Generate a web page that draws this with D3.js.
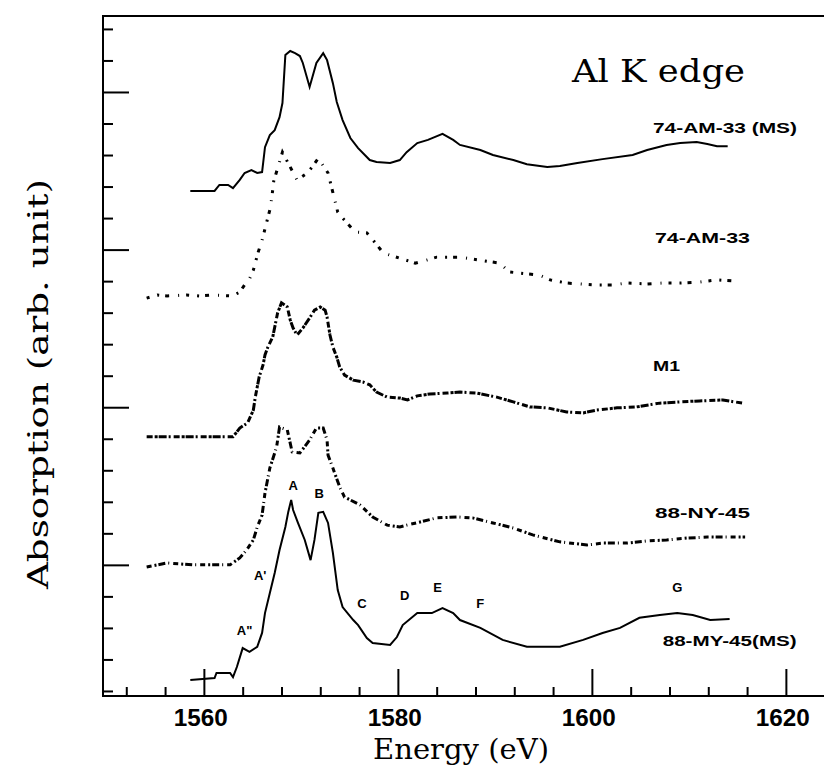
<!DOCTYPE html>
<html>
<head>
<meta charset="utf-8">
<script src="https://cdn.jsdelivr.net/npm/d3@7"></script>
<style>
  body { margin: 0; background: #fff; }
  svg { display: block; }
</style>
</head>
<body>
<div id="container"></div>
<script>
/* CONSTANTS AND GLOBALS */
const width = 824,
  height = 769,
  frame = { left: 103, top: 16, bottom: 696 };

/* DATA (energy in eV, absorption in arb. units, spectra stacked) */
// 74-AM-33 (MS), solid
const amMsE = [1558.6,1561.1,1561.6,1562.5,1563.0,1563.7,1564.2,1564.9,1565.5,1566.0,1566.3,1566.8,1567.3,1567.8,1568.1,1568.4,1568.9,1569.4,1569.9,1570.2,1570.9,1571.6,1572.3,1572.7,1573.3,1573.7,1574.3,1575.1,1575.9,1577.1,1577.8,1579.2,1580.2,1580.9,1582.0,1583.1,1584.6,1585.7,1586.4,1588.5,1589.8,1591.9,1593.3,1595.4,1596.7,1598.5,1601.1,1604.2,1605.7,1607.7,1609.1,1610.8,1611.9,1612.9,1614.0];
const amMsA = [15.86,15.86,16.05,16.05,15.95,16.21,16.43,16.52,16.43,16.46,17.25,17.63,17.79,18.20,18.65,20.17,20.30,20.23,20.14,19.92,19.16,19.92,20.23,20.01,19.28,18.68,18.11,17.54,17.22,16.84,16.78,16.75,16.84,17.09,17.38,17.48,17.67,17.48,17.32,17.16,17.00,16.84,16.71,16.62,16.65,16.75,16.87,17.00,17.16,17.32,17.38,17.41,17.35,17.28,17.28];

// 74-AM-33, dotted
const amE = [1554.1,1555.2,1556.2,1558.2,1559.6,1560.9,1562.9,1563.7,1564.2,1564.7,1565.1,1565.6,1566.0,1566.8,1567.0,1567.2,1568.1,1569.6,1570.7,1571.8,1572.8,1573.8,1574.3,1575.6,1576.8,1577.6,1578.5,1580.5,1581.8,1583.0,1584.0,1585.4,1586.4,1590.5,1591.5,1594.6,1595.7,1597.4,1600.1,1602.2,1603.6,1605.7,1607.3,1609.1,1611.1,1612.9,1614.9];
const amA = [12.46,12.56,12.53,12.56,12.53,12.56,12.53,12.65,12.88,13.07,13.35,13.92,14.30,15.26,15.64,16.17,17.09,16.21,16.43,16.90,16.43,15.19,15.00,14.56,14.53,14.24,13.89,13.70,13.57,13.67,13.76,13.76,13.76,13.57,13.29,13.19,13.04,12.94,12.88,12.88,12.94,12.91,12.94,12.94,12.97,13.04,13.00];

// M1, dotted
const m1E = [1554.1,1563.0,1563.7,1564.5,1565.1,1565.3,1565.5,1565.7,1566.1,1566.3,1566.6,1567.1,1567.6,1568.0,1568.6,1568.9,1569.2,1569.6,1570.2,1570.9,1571.4,1572.0,1572.5,1572.7,1573.0,1573.3,1573.7,1574.0,1574.5,1575.4,1576.4,1577.1,1577.8,1578.9,1580.2,1581.0,1582.0,1583.3,1585.1,1586.4,1588.1,1590.2,1591.9,1593.6,1595.4,1597.4,1599.1,1600.5,1602.6,1604.6,1607.0,1609.1,1611.1,1613.5,1615.5];
const m1A = [8.06,8.06,8.34,8.50,8.91,9.32,9.64,9.96,10.34,10.66,10.91,11.23,11.99,12.31,12.18,11.77,11.51,11.29,11.51,11.83,12.08,12.18,12.08,11.86,11.29,10.91,10.59,10.28,10.02,9.86,9.80,9.71,9.48,9.32,9.29,9.23,9.36,9.42,9.45,9.48,9.45,9.32,9.17,9.01,8.98,8.85,8.82,8.91,8.98,9.01,9.13,9.17,9.20,9.23,9.13];

// 88-NY-45, dotted
const nyE = [1554.1,1556.2,1558.9,1562.7,1563.7,1564.4,1565.1,1565.5,1566.0,1566.3,1566.8,1567.5,1567.8,1568.6,1569.1,1569.9,1570.9,1571.6,1572.3,1572.7,1572.8,1573.3,1574.0,1574.5,1576.1,1577.4,1578.9,1580.2,1580.9,1582.3,1584.0,1586.1,1587.7,1589.8,1591.9,1593.9,1596.7,1599.5,1601.1,1603.6,1605.7,1607.7,1609.8,1611.9,1613.9,1615.8];
const nyA = [3.93,4.06,4.00,4.00,4.22,4.47,4.79,5.20,5.58,6.28,7.07,7.74,8.37,8.28,7.58,7.55,7.96,8.34,8.34,7.96,7.48,7.07,6.47,6.15,5.90,5.52,5.26,5.20,5.26,5.36,5.49,5.52,5.49,5.33,5.17,4.95,4.73,4.63,4.69,4.69,4.76,4.79,4.85,4.88,4.88,4.88];

// 88-MY-45(MS), solid
const myE = [1558.6,1561.1,1561.3,1562.7,1563.0,1563.4,1564.0,1564.7,1565.5,1566.0,1566.3,1566.8,1567.3,1567.8,1568.4,1568.7,1569.0,1569.2,1569.7,1570.4,1571.0,1571.4,1571.8,1572.3,1572.8,1573.3,1573.8,1574.3,1575.4,1575.9,1576.8,1577.4,1579.2,1579.9,1580.5,1582.0,1583.5,1584.6,1585.7,1586.4,1588.5,1590.8,1593.3,1596.7,1599.1,1601.1,1602.9,1604.9,1607.0,1608.8,1610.4,1612.2,1614.2];
const myA = [0.35,0.41,0.57,0.57,0.44,0.76,1.36,1.24,1.40,1.84,2.47,3.11,3.74,4.47,5.20,5.68,6.06,5.74,5.33,4.79,4.15,4.79,5.65,5.68,5.33,4.38,3.20,2.66,2.25,2.09,1.68,1.52,1.46,1.71,2.09,2.47,2.47,2.63,2.47,2.25,2.00,1.62,1.40,1.40,1.62,1.84,2.00,2.32,2.41,2.47,2.41,2.25,2.28];

const seriesNames = ["74-AM-33 (MS)", "74-AM-33", "M1", "88-NY-45", "88-MY-45(MS)"];
// label anchor (eV, arb.) for each series name
const nameE = [1606.3, 1606.5, 1606.3, 1606.5, 1607.3];
const nameA = [17.88, 14.40, 10.34, 5.68, 1.62];
const nameW = [144, 95, 27, 95, 134];

// feature letters on the bottom spectrum
const featLabels = ["A\"", "A'", "A", "B", "C", "D", "E", "F", "G"];
const featE = [1564.2, 1565.8, 1569.2, 1571.9, 1576.3, 1580.7, 1584.1, 1588.5, 1608.8];
const featA = [1.93, 3.68, 6.53, 6.28, 2.79, 3.04, 3.30, 2.79, 3.30];

const xMajor = [1560, 1580, 1600, 1620];

const spectra = [
  { e: amMsE, a: amMsA, dash: null },
  { e: amE, a: amA, dash: "3 8 2 6 4 9 1 7" },
  { e: m1E, a: m1A, dash: "6 2 3 1 8 2 2 3" },
  { e: nyE, a: nyA, dash: "5 3 2 2 7 3 1 4" },
  { e: myE, a: myA, dash: null }
];

/* SCALES */
const xScale = d3.scaleLinear()
  .domain([1549.6, 1626])
  .range([frame.left, frame.left + 76.4 * 9.7]);

const yScale = d3.scaleLinear()
  .domain([-0.16, 21.41])
  .range([frame.bottom, frame.top]);

/* HTML ELEMENTS */
const svg = d3.select("#container")
  .append("svg")
  .attr("width", width)
  .attr("height", height);

// frame (right side runs off the picture)
svg.append("path")
  .attr("d", `M${width + 10},${frame.top}H${frame.left}V${frame.bottom}H${width + 10}`)
  .attr("fill", "none")
  .attr("stroke", "#000")
  .attr("stroke-width", 2);

// x ticks (inside, every 4 eV, taller at the labelled ones)
const xTicks = d3.range(1552, 1626, 4);
const xAxis = d3.axisTop(xScale)
  .tickValues(xTicks)
  .tickFormat("")
  .tickSizeOuter(0)
  .tickSizeInner(0);
const gx = svg.append("g")
  .attr("transform", `translate(0,${frame.bottom})`)
  .call(xAxis);
gx.select(".domain").remove();
gx.selectAll(".tick line")
  .attr("y2", d => xMajor.includes(d) ? -27 : -9)
  .attr("stroke", "#000")
  .attr("stroke-width", 2);

// x tick labels
svg.append("g")
  .selectAll("text")
  .data(xMajor)
  .join("text")
  .attr("x", d => xScale(d) - 3)
  .attr("y", 726)
  .attr("text-anchor", "middle")
  .attr("textLength", 54)
  .attr("lengthAdjust", "spacingAndGlyphs")
  .style("font-family", "'Liberation Sans', sans-serif")
  .style("font-weight", "bold")
  .style("font-size", "23px")
  .text(d => d);

// y ticks (no labels)
const yTicks = d3.range(0, 22, 1);
const yAxis = d3.axisRight(yScale)
  .tickValues(yTicks)
  .tickFormat("")
  .tickSizeOuter(0)
  .tickSizeInner(0);
const gy = svg.append("g")
  .attr("transform", `translate(${frame.left},0)`)
  .call(yAxis);
gy.select(".domain").remove();
gy.selectAll(".tick line")
  .attr("x2", d => (d % 5 === 4) ? 26 : 10)
  .attr("stroke", "#000")
  .attr("stroke-width", 2);

// spectra
const line = d3.line()
  .x(d => xScale(d[0]))
  .y(d => yScale(d[1]));

spectra.forEach(s => {
  const pts = s.e.map((e, i) => [e, s.a[i]]);
  svg.append("path")
    .datum(pts)
    .attr("d", line)
    .attr("fill", "none")
    .attr("stroke", "#000")
    .attr("stroke-width", s.dash ? 3 : 2)
    .attr("stroke-dasharray", s.dash);
});

// series names
svg.append("g")
  .selectAll("text")
  .data(seriesNames)
  .join("text")
  .attr("x", (d, i) => xScale(nameE[i]))
  .attr("y", (d, i) => yScale(nameA[i]) + 6)
  .attr("textLength", (d, i) => nameW[i])
  .attr("lengthAdjust", "spacingAndGlyphs")
  .style("font-family", "'Liberation Sans', sans-serif")
  .style("font-weight", "bold")
  .style("font-size", "15px")
  .text(d => d);

// feature letters
svg.append("g")
  .selectAll("text")
  .data(featLabels)
  .join("text")
  .attr("x", (d, i) => xScale(featE[i]))
  .attr("y", (d, i) => yScale(featA[i]) + 5)
  .attr("text-anchor", "middle")
  .style("font-family", "'Liberation Sans', sans-serif")
  .style("font-weight", "bold")
  .style("font-size", "13px")
  .text(d => d);

// title inside the plot
svg.append("text")
  .attr("x", 572)
  .attr("y", 82)
  .attr("textLength", 173)
  .attr("lengthAdjust", "spacingAndGlyphs")
  .style("font-family", "'DejaVu Serif', serif")
  .style("font-size", "32px")
  .text("Al K edge");

// axis titles
svg.append("text")
  .attr("x", 373)
  .attr("y", 759)
  .attr("textLength", 176)
  .attr("lengthAdjust", "spacingAndGlyphs")
  .style("font-family", "'DejaVu Serif', serif")
  .style("font-size", "28px")
  .text("Energy (eV)");

svg.append("text")
  .attr("transform", "rotate(-90)")
  .attr("x", -384)
  .attr("y", 48)
  .attr("text-anchor", "middle")
  .attr("textLength", 410)
  .attr("lengthAdjust", "spacingAndGlyphs")
  .style("font-family", "'DejaVu Serif', serif")
  .style("font-size", "27px")
  .text("Absorption (arb. unit)");
</script>
</body>
</html>
